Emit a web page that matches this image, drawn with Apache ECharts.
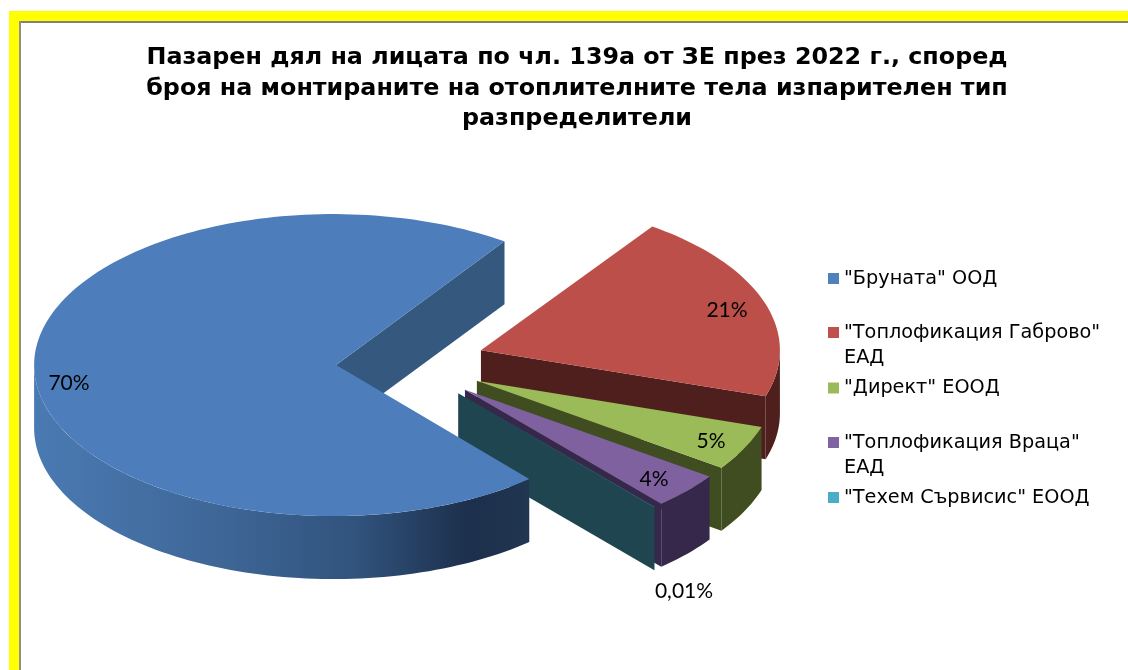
<!DOCTYPE html>
<html>
<head>
<meta charset="utf-8">
<title>Пазарен дял</title>
<style>
html, body { margin: 0; padding: 0; background: #fff; }
#main { width: 1128px; height: 670px; }
</style>
<script src="https://cdn.jsdelivr.net/npm/echarts@6/dist/echarts.min.js"></script>
</head>
<body>
<div id="main"></div>
<script>
var titleText = 'Пазарен дял на лицата по чл. 139а от ЗЕ през 2022 г., според\nброя на монтираните на отоплителните тела изпарителен тип\nразпределители';
var companies = ['"Бруната" ООД', '"Топлофикация Габрово" ЕАД', '"Директ" ЕООД', '"Топлофикация Враца" ЕАД', '"Техем Сървисис" ЕООД'];
var shares = [70, 21, 5, 4, 0.01];
var shareLabels = ['70%', '21%', '5%', '4%', '0,01%'];

// look of the fake 3d pie
var topColors = ['#4d7ebb', '#bd4f4b', '#9bbb59', '#7f619f', '#4bacc6'];
var legendColors = ['#4f81bd', '#c0504d', '#9bbb59', '#8064a2', '#4bacc6'];
var sideColors = ['#35587f', '#4e1f1c', '#3f4d20', '#35284a', '#1f4650'];
var drawOrder = [5, 1, 2, 3, 4];
var labelSpots = [[69, 383], [727, 310], [711, 441], [654, 479], [684, 591]];
var legendRows = [278.5, 332.5, 388, 442.5, 497.5];

var center = [407, 363];
var rx = 299, ry = 151, depth = 63;
var explodeX = 78, explodeY = 40;
var startAngle = 49;
var squeeze = 0.963; // the tilted view makes the small slices look a bit narrower
var blueRimShift = 4, blueApexShift = 3;

var total = 0;
for (var i = 0; i < shares.length; i++) total += shares[i];

function rad(deg) { return deg * Math.PI / 180; }

// slice 0 takes what the others leave, the others run up to startAngle + 360
function sliceRange(index) {
    var rest = total - shares[0];
    var blueEnd = startAngle + 360 - rest / total * 360 * squeeze;
    if (index == 0) return [startAngle, blueEnd];
    var before = 0;
    for (var k = 1; k < index; k++) before += shares[k];
    var from = blueEnd + before / total * 360 * squeeze;
    return [from, from + shares[index] / total * 360 * squeeze];
}

function arcPoints(cx, cy, from, to, dy) {
    var pts = [];
    var steps = Math.max(2, Math.ceil((to - from) / 1.5));
    for (var s = 0; s <= steps; s++) {
        var a = rad(from + (to - from) * s / steps);
        pts.push([cx + rx * Math.cos(a), cy + ry * Math.sin(a) + dy]);
    }
    return pts;
}

function sliceItem(index) {
    return function (params, api) {
        var range = sliceRange(index);
        var from = range[0], to = range[1];
        var mid = rad((from + to) / 2);
        var cx = center[0] + explodeX * Math.cos(mid) + (index == 0 ? blueRimShift : 0);
        var cy = center[1] + explodeY * Math.sin(mid);
        var apex = [cx + (index == 0 ? blueApexShift : 0), cy];
        var children = [];
        var endRim = arcPoints(cx, cy, to, to, 0)[0];

        // cut face at the end of the slice
        if (Math.cos(rad(to)) > 0) {
            children.push({
                type: 'polygon',
                shape: { points: [apex, endRim, [endRim[0], endRim[1] + depth], [apex[0], apex[1] + depth]] },
                style: { fill: sideColors[index] }
            });
        }

        // outer wall, only the part that faces the front
        var w = [];
        for (var turn = 0; turn <= 360; turn += 360) {
            var a0 = Math.max(from, turn), a1 = Math.min(to, turn + 180);
            if (a1 > a0) w.push([a0, a1]);
        }
        for (var j = 0; j < w.length; j++) {
            var upper = arcPoints(cx, cy, w[j][0], w[j][1], 0);
            var lower = arcPoints(cx, cy, w[j][0], w[j][1], depth).reverse();
            var fill = sideColors[index];
            if (index == 0) {
                fill = new echarts.graphic.LinearGradient(0, 0, 1, 0, [
                    { offset: 0, color: '#4a7ab3' },
                    { offset: 0.35, color: '#3f6899' },
                    { offset: 0.65, color: '#31537d' },
                    { offset: 0.88, color: '#1c2f4c' },
                    { offset: 1, color: '#213650' }
                ]);
            }
            children.push({ type: 'polygon', shape: { points: upper.concat(lower) }, style: { fill: fill } });
        }

        children.push({
            type: 'polygon',
            shape: { points: [apex].concat(arcPoints(cx, cy, from, to, 0)) },
            style: { fill: topColors[index] }
        });
        children.push({
            type: 'text',
            style: {
                text: shareLabels[index],
                x: labelSpots[index][0],
                y: labelSpots[index][1],
                align: 'center',
                verticalAlign: 'middle',
                fill: '#000',
                font: '21px Lato'
            }
        });
        return { type: 'group', children: children };
    };
}

var seriesList = [];
var legendList = [];
companies.forEach(function (name, i) {
    seriesList.push({
        name: name,
        type: 'custom',
        coordinateSystem: 'none',
        z: drawOrder[i],
        silent: true,
        itemStyle: { color: legendColors[i] },
        data: [[shares[i]]],
        renderItem: sliceItem(i)
    });
    var wrapped = name.slice(-3) == 'ЕАД';
    legendList.push({
        data: [name],
        left: 828,
        top: legendRows[i] - (wrapped ? 37.5 : 12.5),
        padding: 0,
        icon: 'rect',
        itemWidth: 11,
        itemHeight: 11,
        selectedMode: false,
        textStyle: { color: '#000', fontFamily: 'DejaVu Sans', fontSize: 19.25, lineHeight: 25 },
        formatter: function (n) {
            return wrapped ? '\n' + n.replace(' ЕАД', '\nЕАД') : n;
        }
    });
});

var myChart = echarts.init(document.getElementById('main'));
myChart.setOption({
    animation: false,
    backgroundColor: '#fff',
    title: {
        text: titleText,
        left: 572,
        top: 38,
        textAlign: 'center',
        textStyle: { color: '#000', fontFamily: 'DejaVu Sans', fontWeight: 'bold', fontSize: 23.8, lineHeight: 30.5 }
    },
    legend: legendList,
    graphic: [
        { type: 'rect', z: 0, shape: { x: 9, y: 11, width: 1119, height: 10 }, style: { fill: '#ffff00' } },
        { type: 'rect', z: 0, shape: { x: 9, y: 11, width: 10, height: 659 }, style: { fill: '#ffff00' } },
        { type: 'rect', z: 0, shape: { x: 19, y: 21, width: 1109, height: 2 }, style: { fill: '#808080' } },
        { type: 'rect', z: 0, shape: { x: 19, y: 21, width: 2, height: 649 }, style: { fill: '#909090' } }
    ],
    series: seriesList
});
</script>
</body>
</html>
